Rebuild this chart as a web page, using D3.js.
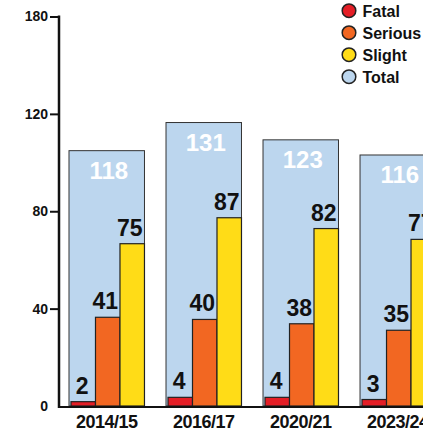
<!DOCTYPE html>
<html><head><meta charset="utf-8">
<script src="https://cdn.jsdelivr.net/npm/d3@7"></script>
<style>
html,body{margin:0;padding:0;background:#fff;}
svg{display:block;font-family:"Liberation Sans",Arial,sans-serif;font-weight:bold;}
</style></head>
<body>
<svg id="chart" width="423" height="432"></svg>
<script>
const categories = ["2014/15","2016/17","2020/21","2023/24"];
const fatal   = [2,4,4,3];
const serious = [41,40,38,35];
const slight  = [75,87,82,77];
const total   = [118,131,123,116];
const seriesNames = ["Fatal","Serious","Slight","Total"];
const seriesColors = ["#e41e26","#f26722","#ffdc17","#bcd6ee"];
const tickValues = [0,45,90,135,180];
const tickLabels = ["0","40","80","120","180"];

const svg = d3.select("#chart");
const y = d3.scaleLinear().domain([0,180]).range([406,16.5]);
const x = d3.scaleBand().domain(categories).range([69,435.5]).paddingInner(0.222).paddingOuter(0);
const sub = d3.scaleBand().domain([0,1,2]).range([2, x.bandwidth()]).padding(0);

const rows = categories.map((c,i)=>({cat:c, vals:[fatal[i],serious[i],slight[i]], total:total[i]}));

const g = svg.selectAll("g.grp").data(rows).join("g").attr("class","grp")
  .attr("transform", d=>`translate(${x(d.cat)},0)`);

g.append("rect")
  .attr("x",0).attr("width",x.bandwidth())
  .attr("y",d=>y(d.total)).attr("height",d=>y(0)-y(d.total))
  .attr("fill",seriesColors[3]).attr("stroke","#333").attr("stroke-width",1);

g.append("text")
  .attr("x",x.bandwidth()/2+2).attr("y",d=>y(d.total)+28.5)
  .attr("text-anchor","middle").attr("fill","#fff").attr("font-size",24)
  .text(d=>d.total);

g.selectAll("rect.sub").data(d=>d.vals.map((v,k)=>({v,k}))).join("rect").attr("class","sub")
  .attr("x",d=>sub(d.k)).attr("width",sub.bandwidth())
  .attr("y",d=>y(d.v)).attr("height",d=>y(0)-y(d.v))
  .attr("fill",d=>seriesColors[d.k]).attr("stroke","#222").attr("stroke-width",1.2);

g.selectAll("text.sub").data(d=>d.vals.map((v,k)=>({v,k}))).join("text").attr("class","sub")
  .attr("x",d=>sub(d.k)+sub.bandwidth()/2-(d.v>=10?2.5:1))
  .attr("y",d=>y(d.v)-8)
  .attr("text-anchor","middle").attr("fill","#111").attr("font-size",23)
  .text(d=>d.v);

// y axis
const yAxis = d3.axisLeft(y).tickValues(tickValues).tickFormat((d,i)=>tickLabels[i]).tickSize(9).tickPadding(2);
const ya = svg.append("g").attr("transform","translate(59,0)").call(yAxis);
ya.select(".domain").remove();
ya.selectAll(".tick line").attr("stroke","#111").attr("stroke-width",2)
  .filter(d=>d===0).remove();
ya.selectAll(".tick text").attr("font-size",14).attr("font-weight","bold").attr("fill","#111")
  .attr("font-family","Liberation Sans, Arial, sans-serif");
svg.append("line").attr("x1",59).attr("x2",59).attr("y1",y(180)-1).attr("y2",y(0)+2)
  .attr("stroke","#111").attr("stroke-width",2.5);
svg.append("line").attr("x1",58).attr("x2",423).attr("y1",y(0)+1).attr("y2",y(0)+1)
  .attr("stroke","#111").attr("stroke-width",2);

// x labels
svg.selectAll("text.cat").data(categories).join("text").attr("class","cat")
  .attr("x",d=>x(d)+x.bandwidth()/2).attr("y",428)
  .attr("text-anchor","middle").attr("font-size",18).attr("letter-spacing","-0.5px").attr("fill","#111")
  .text(d=>d);

// legend
const lg = svg.selectAll("g.leg").data(seriesNames).join("g").attr("class","leg")
  .attr("transform",(d,i)=>`translate(349,${10.7+i*22})`);
lg.append("circle").attr("r",6.8).attr("fill",(d,i)=>seriesColors[i]).attr("stroke","#222").attr("stroke-width",1.5);
lg.append("text").attr("x",13.5).attr("y",6).attr("font-size",16).attr("fill","#111").text(d=>d);
</script>
</body></html>
